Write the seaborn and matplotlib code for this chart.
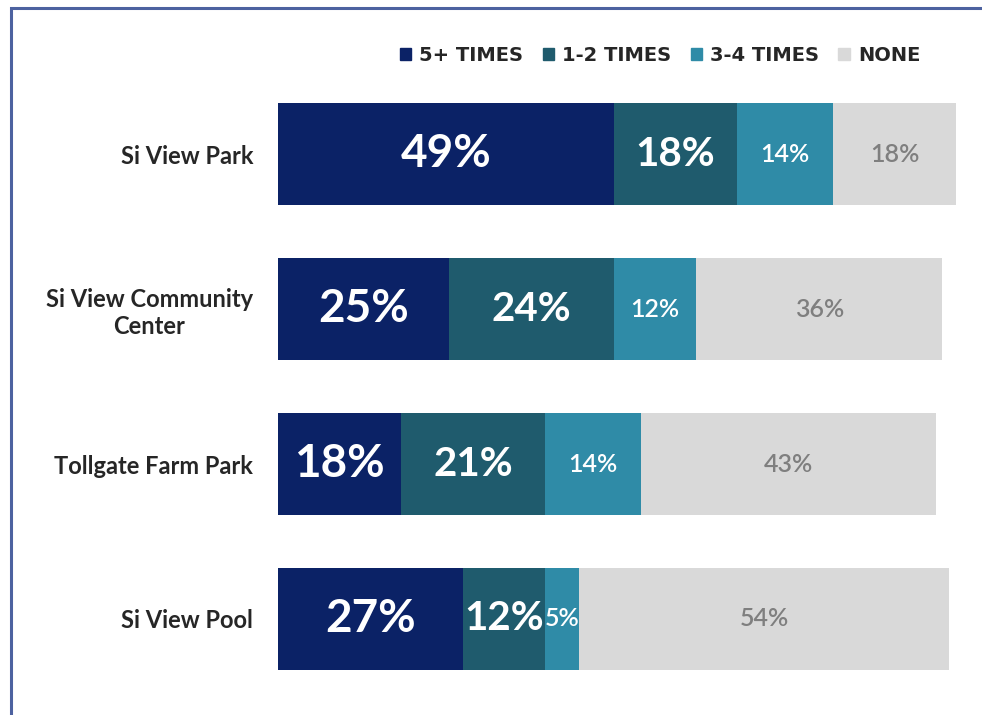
import matplotlib.pyplot as plt
import matplotlib.patches as mpatches
import pandas as pd
import seaborn as sns

# data
places = ["Si View Park", "Si View Community\nCenter", "Tollgate Farm Park", "Si View Pool"]
five_plus = [49, 25, 18, 27]
one_two = [18, 24, 21, 12]
three_four = [14, 12, 14, 5]
none = [18, 36, 43, 54]
series_names = ["5+ TIMES", "1-2 TIMES", "3-4 TIMES", "NONE"]
colors = ["#0b2266", "#1f5b6d", "#2f8ba7", "#d9d9d9"]
label_colors = ["white", "white", "white", "#7f7f7f"]
label_sizes = [33, 29, 18, 18]

df = pd.DataFrame({"place": places, "5+ TIMES": five_plus, "1-2 TIMES": one_two,
                   "3-4 TIMES": three_four, "NONE": none})
cum = df[series_names].cumsum(axis=1)

sns.set_style("white")
plt.rcParams["font.family"] = ["Lato", "DejaVu Sans"]

fig = plt.figure(figsize=(9.82, 7.15), dpi=100)
ax = fig.add_axes([0.2831, 0.0259, 0.6976, 0.867])

# stacked bars: draw cumulative totals from back to front
for name, col in reversed(list(zip(series_names, colors))):
    sns.barplot(x=cum[name], y=df["place"], color=col, orient="h", width=0.66,
                ax=ax, saturation=1, linewidth=0)

for i in range(len(places)):
    for j, name in enumerate(series_names):
        v = df[name][i]
        mid = cum[name][i] - v / 2
        ax.text(mid, i, f"{v}%", ha="center", va="center", color=label_colors[j],
                fontsize=label_sizes[j], fontweight="bold" if j < 2 else "semibold")

ax.set_xlim(0, 100)
ax.set_ylim(3.5, -0.5)
ax.set_xlabel("")
ax.set_ylabel("")
ax.set_xticks([])
ax.tick_params(axis="y", length=0, pad=18)
for lab in ax.get_yticklabels():
    lab.set_fontsize(17)
    lab.set_fontweight("bold")
    lab.set_multialignment("center")
sns.despine(ax=ax, left=True, bottom=True)

handles = [mpatches.Patch(color=c, label=n) for n, c in zip(series_names, colors)]
fig.legend(handles=handles, loc="center right", bbox_to_anchor=(0.955, 0.923), ncol=4,
           frameon=False, handlelength=0.6, handleheight=0.6, handletextpad=0.4,
           columnspacing=1.0, prop={"family": "DejaVu Sans", "weight": "bold", "size": 14})

# outer frame of the slide
frame = mpatches.Rectangle((0.011, -0.1), 1.2, 1.089, transform=fig.transFigure,
                           fill=False, edgecolor="#4d62a0", linewidth=2.2, clip_on=False)
fig.patches.append(frame)

fig.savefig("out.png", dpi=100)
